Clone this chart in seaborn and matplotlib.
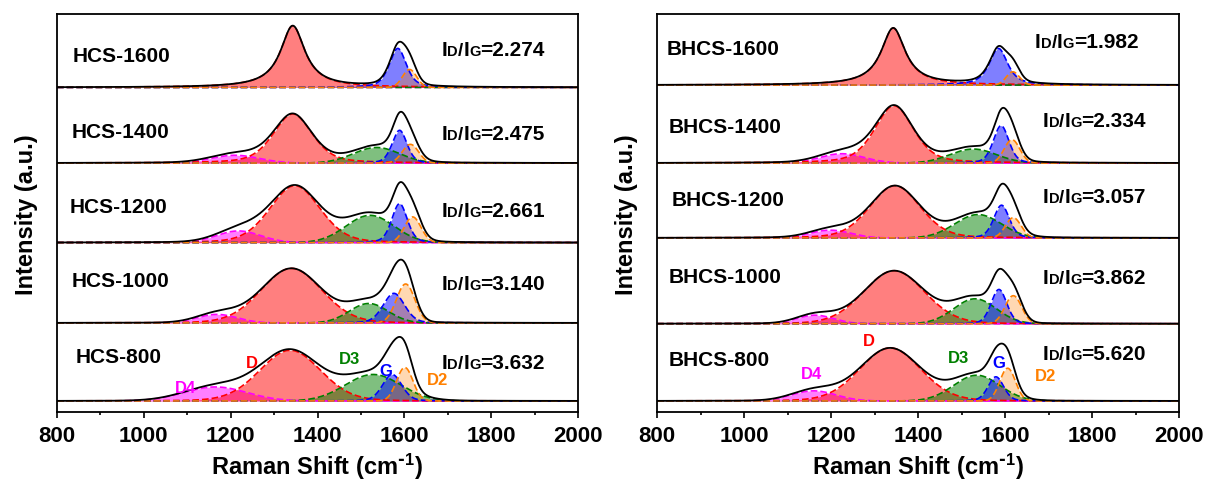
import numpy as np
import pandas as pd
import matplotlib
matplotlib.use("Agg")
import matplotlib.pyplot as plt
from matplotlib.transforms import offset_copy
from matplotlib.ticker import MultipleLocator
import seaborn as sns

# ---------------------------------------------------------------- data
samples = ["800", "1000", "1200", "1400", "1600"]          # bottom -> top
bands = ["D4", "D", "D3", "G", "D2"]

# Fitted band parameters, rows = samples, columns = bands
hcs_center = [[1165, 1337, 1528, 1572, 1601],
              [1168, 1340, 1518, 1576, 1603],
              [1218, 1348, 1521, 1589, 1619],
              [1210, 1343, 1536, 1589, 1614],
              [1200, 1343, 1530, 1585, 1612]]
hcs_height = [[0.18, 0.65, 0.34, 0.34, 0.43],
              [0.11, 0.70, 0.25, 0.38, 0.50],
              [0.15, 0.73, 0.35, 0.50, 0.33],
              [0.10, 0.63, 0.20, 0.42, 0.24],
              [0.00, 0.79, 0.00, 0.50, 0.23]]
hcs_fwhm = [[170, 165, 150, 52, 44],
            [110, 165, 105, 58, 50],
            [120, 136, 130, 42, 45],
            [130, 106, 125, 40, 44],
            [100, 68, 100, 46, 38]]
hcs_lorentz = [[0, 0.1, 0, 0.2, 0],
               [0, 0.1, 0, 0.2, 0],
               [0, 0.2, 0, 0.3, 0],
               [0, 0.4, 0, 0.3, 0],
               [0, 1.0, 0, 0.5, 0]]
hcs_ratio = ["3.632", "3.140", "2.661", "2.475", "2.274"]

bhcs_center = [[1160, 1336, 1535, 1579, 1606],
               [1163, 1345, 1531, 1586, 1619],
               [1198, 1347, 1538, 1592, 1619],
               [1225, 1345, 1527, 1591, 1616],
               [1200, 1343, 1530, 1585, 1618]]
bhcs_height = [[0.13, 0.68, 0.33, 0.31, 0.42],
               [0.11, 0.68, 0.32, 0.44, 0.36],
               [0.10, 0.67, 0.30, 0.42, 0.26],
               [0.12, 0.735, 0.18, 0.48, 0.30],
               [0.00, 0.73, 0.00, 0.47, 0.17]]
bhcs_fwhm = [[120, 165, 125, 42, 42],
             [100, 165, 115, 42, 45],
             [110, 136, 125, 42, 42],
             [120, 105, 125, 42, 42],
             [100, 67, 100, 50, 36]]
bhcs_lorentz = [[0, 0.1, 0, 0.2, 0],
                [0, 0.1, 0, 0.2, 0],
                [0, 0.2, 0, 0.3, 0],
                [0, 0.4, 0, 0.3, 0],
                [0, 1.0, 0, 0.7, 0]]
bhcs_ratio = ["5.620", "3.862", "3.057", "2.334", "1.982"]

# ---------------------------------------------------------------- style
band_colors = ["#FF00FF", "#FF0000", "#008000", "#0000FF", "#FF8000"]
band_alpha = [0.5, 0.5, 0.5, 0.5, 0.3]
hcs_offset = [0.0, 1.0, 2.03, 3.05, 4.02]
bhcs_offset = [0.0, 0.99, 2.09, 3.05, 4.05]

sns.set_theme(style="ticks")
plt.rcParams["font.family"] = ["Liberation Sans", "DejaVu Sans"]
plt.rcParams["font.weight"] = "bold"
plt.rcParams["mathtext.default"] = "regular"
for key in ["text.color", "axes.labelcolor", "xtick.color", "ytick.color",
            "xtick.labelcolor", "axes.edgecolor"]:
    plt.rcParams[key] = "black"

shift = np.arange(800, 2001, 1.0)


def band(x, c, h, w, eta):
    gauss = np.exp(-4 * np.log(2) * ((x - c) / w) ** 2)
    lorentz = 1.0 / (1.0 + ((x - c) / (w / 2)) ** 2)
    return h * (eta * lorentz + (1 - eta) * gauss)


fig = plt.figure(figsize=(12.10, 4.81), dpi=100)
ax_l = fig.add_axes([0.0471, 0.1414, 0.4306, 0.8264])
ax_r = fig.add_axes([0.5430, 0.1414, 0.4314, 0.8264])
renderer = fig.canvas.get_renderer()


def ratio_label(ax, x, y, value, size=15):
    pieces = [("I", 1.0), ("D", 0.7), ("/", 0.9), ("I", 1.0), ("G", 0.7),
              ("=" + value, 1.0)]
    dx = 0.0
    for s, k in pieces:
        tr = offset_copy(ax.transData, fig=fig, x=dx, y=0, units="dots")
        t = ax.text(x, y, s, transform=tr, fontsize=size * k,
                    fontweight="bold", ha="left", va="baseline", color="black")
        dx += t.get_window_extent(renderer).width


def draw_panel(ax, prefix, centers, heights, widths, lorentz, offsets,
               ratios, name_pos, ratio_pos, tag_pos):
    for i, s in enumerate(samples):
        base = offsets[i]
        total = np.zeros_like(shift)
        for j in range(len(bands)):
            y = band(shift, centers[i][j], heights[i][j], widths[i][j],
                     lorentz[i][j])
            total += y
            ax.fill_between(shift, base, base + y, color=band_colors[j],
                            alpha=band_alpha[j], lw=0)
            sns.lineplot(x=shift, y=base + y, ax=ax, color=band_colors[j],
                         lw=1.2, linestyle=(0, (4, 1.8)),
                         estimator=None, sort=False)
        sns.lineplot(x=shift, y=base + total, ax=ax, color="black", lw=1.3,
                     estimator=None, sort=False)
        nx, ny = name_pos[i]
        ax.text(nx, ny, f"{prefix}-{s}", fontsize=15, fontweight="bold",
                ha="left", va="center", color="black")
        rx, ry = ratio_pos[i]
        ratio_label(ax, rx, ry, ratios[i])
    for j, b in enumerate(bands):
        tx, ty = tag_pos[j]
        ax.text(tx, ty, b, color=band_colors[j], fontsize=12,
                fontweight="bold", ha="center", va="center")

    ax.set_xlim(800, 2000)
    ax.set_ylim(-0.141, 4.955)
    ax.set_yticks([])
    ax.xaxis.set_major_locator(MultipleLocator(200))
    ax.xaxis.set_minor_locator(MultipleLocator(100))
    ax.tick_params(axis="x", which="major", direction="out", length=4.5,
                   width=1.2, labelsize=16, pad=5, color="black",
                   labelcolor="black")
    ax.tick_params(axis="x", which="minor", direction="out", length=2.5,
                   width=1.2, color="black")
    for lab in ax.get_xticklabels():
        lab.set_fontweight("bold")
    for sp in ax.spines.values():
        sp.set_visible(True)
        sp.set_color("black")
        sp.set_linewidth(1.3)
    ax.set_xlabel(r"Raman Shift (cm$^{\text{-}1}$)", fontsize=17,
                  fontweight="bold", labelpad=3, color="black")
    ax.set_ylabel("Intensity (a.u.)", fontsize=17, fontweight="bold",
                  labelpad=14, color="black")


draw_panel(ax_l, "HCS", hcs_center, hcs_height, hcs_fwhm, hcs_lorentz,
           hcs_offset, hcs_ratio,
           name_pos=[(844, 0.57), (834, 1.54), (828, 2.49), (834, 3.46),
                     (836, 4.43)],
           ratio_pos=[(1686, 0.42), (1686, 1.44), (1686, 2.37), (1686, 3.36),
                      (1686, 4.43)],
           tag_pos=[(1095, 0.17), (1249, 0.49), (1473, 0.54), (1558, 0.39),
                    (1676, 0.28)])

draw_panel(ax_r, "BHCS", bhcs_center, bhcs_height, bhcs_fwhm, bhcs_lorentz,
           bhcs_offset, bhcs_ratio,
           name_pos=[(827, 0.53), (827, 1.59), (834, 2.58), (827, 3.52),
                     (821, 4.52)],
           ratio_pos=[(1687, 0.54), (1687, 1.51), (1687, 2.55), (1687, 3.53),
                      (1669, 4.54)],
           tag_pos=[(1156, 0.35), (1287, 0.78), (1492, 0.56), (1586, 0.49),
                    (1692, 0.33)])

fig.savefig("out.png", dpi=100, facecolor="white")
